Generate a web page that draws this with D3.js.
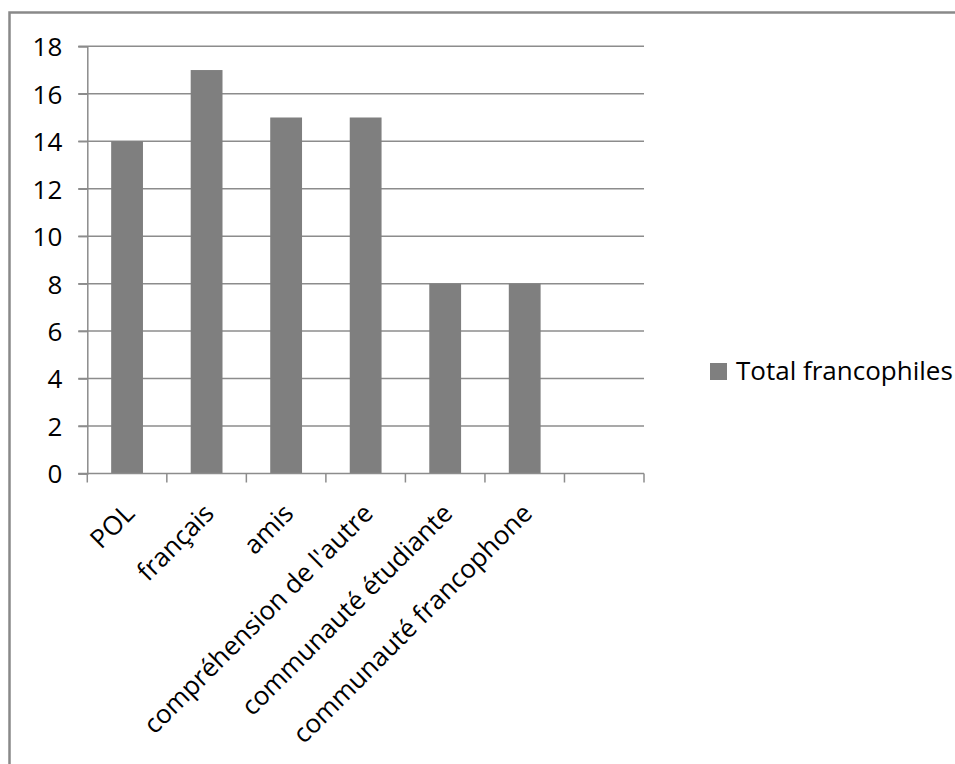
<!DOCTYPE html>
<html><head><meta charset="utf-8">
<script src="https://cdn.jsdelivr.net/npm/d3@7"></script>
<style>body{margin:0;background:#fff;} svg{display:block;}</style>
</head><body>
<svg id="c" width="955" height="764"></svg>
<script>
const categories = ["POL", "français", "amis", "compréhension de l'autre", "communauté étudiante", "communauté francophone", ""];
const values = [14, 17, 15, 15, 8, 8, null];
const yTicks = [0, 2, 4, 6, 8, 10, 12, 14, 16, 18];
const seriesName = "Total francophiles";

const FONT = "'Open Sans', sans-serif";
const FS = 26;
const svg = d3.select("#c");
const L = 87.3, R = 644, T = 46.3, B = 473.5;

// chart border
svg.append("rect").attr("x", 9.5).attr("y", 12.5).attr("width", 1000).attr("height", 1000)
  .attr("fill", "none").attr("stroke", "#898989").attr("stroke-width", 2.5);

const x = d3.scaleBand().domain(categories.map((c, i) => i)).range([L, R]).paddingInner(0.6).paddingOuter(0.3);
const y = d3.scaleLinear().domain([0, 18]).range([B, T]);

// gridlines
svg.append("g").selectAll("line").data(yTicks.slice(1)).join("line")
  .attr("x1", L - 9).attr("x2", R).attr("y1", d => y(d)).attr("y2", d => y(d))
  .attr("stroke", "#8c8c8c").attr("stroke-width", 1.5);

// bars
svg.append("g").selectAll("rect").data(values.map((v, i) => ({v, i})).filter(d => d.v != null)).join("rect")
  .attr("x", d => x(d.i)).attr("width", x.bandwidth())
  .attr("y", d => y(d.v)).attr("height", d => y(0) - y(d.v))
  .attr("fill", "#7f7f7f");

// y axis
const yAxis = svg.append("g").attr("transform", `translate(${L},0)`)
  .call(d3.axisLeft(y).tickValues(yTicks).tickSize(9).tickPadding(16));
yAxis.select(".domain").attr("stroke", "#8c8c8c").attr("stroke-width", 1.5);
yAxis.selectAll(".tick line").attr("stroke", "#8c8c8c").attr("stroke-width", 1.5);
yAxis.selectAll(".tick text").attr("font-family", FONT).attr("font-size", FS).attr("fill", "#000")
  .attr("dy", "0.36em");

// x axis (category boundaries)
const step = (R - L) / categories.length;
const bounds = d3.range(categories.length + 1).map(i => L + i * step);
const xb = svg.append("g");
xb.append("line").attr("x1", L - 9).attr("x2", R).attr("y1", B).attr("y2", B)
  .attr("stroke", "#8c8c8c").attr("stroke-width", 1.5);
xb.selectAll("line.t").data(bounds).join("line").attr("class", "t")
  .attr("x1", d => d).attr("x2", d => d).attr("y1", B).attr("y2", B + 9)
  .attr("stroke", "#8c8c8c").attr("stroke-width", 1.5);
svg.append("g").selectAll("text").data(categories.map((c, i) => ({c, i}))).join("text")
  .attr("transform", d => `translate(${x(d.i) + x.bandwidth() / 2 + 9},${B + 41.5}) rotate(-45)`)
  .attr("text-anchor", "end").attr("font-family", FONT).attr("font-size", FS).attr("fill", "#000")
  .text(d => d.c);

// legend
const lg = svg.append("g").attr("transform", "translate(710,363)");
lg.append("rect").attr("width", 17).attr("height", 17).attr("fill", "#7f7f7f");
lg.append("text").attr("x", 26).attr("y", 17).attr("font-family", FONT).attr("font-size", FS).attr("fill", "#000").text(seriesName);
</script>
</body></html>
